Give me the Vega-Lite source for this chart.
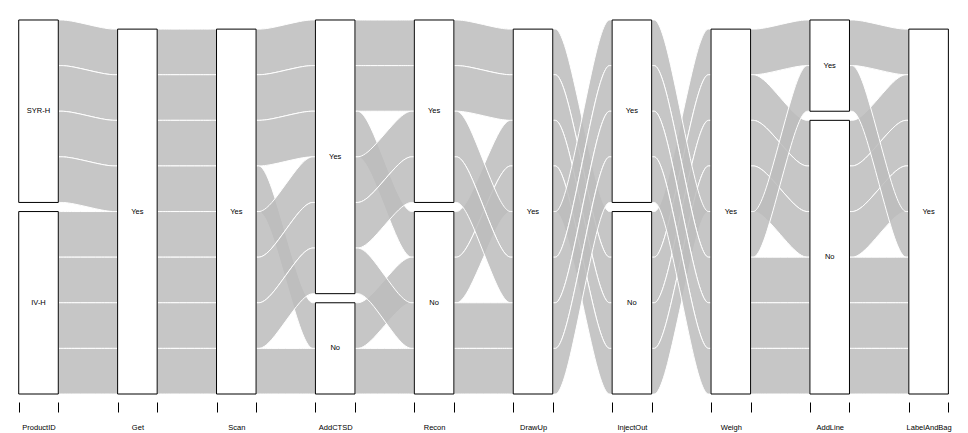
{
  "$schema": "https://vega.github.io/schema/vega-lite/v6.json",
  "width": 968,
  "height": 402,
  "padding": {"left": 0, "top": 0, "right": 0, "bottom": 31},
  "autosize": {"type": "none"},
  "background": "white",
  "config": {"view": {"stroke": null}},
  "data": {
    "values": [
      {"id": 1, "n": 1, "ProductID": "SYR-H", "Get": "Yes", "Scan": "Yes", "AddCTSD": "Yes", "Recon": "Yes", "DrawUp": "Yes", "InjectOut": "No", "Weigh": "Yes", "AddLine": "Yes", "LabelAndBag": "Yes"},
      {"id": 2, "n": 1, "ProductID": "SYR-H", "Get": "Yes", "Scan": "Yes", "AddCTSD": "Yes", "Recon": "Yes", "DrawUp": "Yes", "InjectOut": "No", "Weigh": "Yes", "AddLine": "No", "LabelAndBag": "Yes"},
      {"id": 3, "n": 1, "ProductID": "SYR-H", "Get": "Yes", "Scan": "Yes", "AddCTSD": "Yes", "Recon": "No", "DrawUp": "Yes", "InjectOut": "No", "Weigh": "Yes", "AddLine": "No", "LabelAndBag": "Yes"},
      {"id": 4, "n": 1, "ProductID": "SYR-H", "Get": "Yes", "Scan": "Yes", "AddCTSD": "No", "Recon": "No", "DrawUp": "Yes", "InjectOut": "No", "Weigh": "Yes", "AddLine": "No", "LabelAndBag": "Yes"},
      {"id": 5, "n": 1, "ProductID": "IV-H", "Get": "Yes", "Scan": "Yes", "AddCTSD": "Yes", "Recon": "Yes", "DrawUp": "Yes", "InjectOut": "Yes", "Weigh": "Yes", "AddLine": "Yes", "LabelAndBag": "Yes"},
      {"id": 6, "n": 1, "ProductID": "IV-H", "Get": "Yes", "Scan": "Yes", "AddCTSD": "Yes", "Recon": "Yes", "DrawUp": "Yes", "InjectOut": "Yes", "Weigh": "Yes", "AddLine": "No", "LabelAndBag": "Yes"},
      {"id": 7, "n": 1, "ProductID": "IV-H", "Get": "Yes", "Scan": "Yes", "AddCTSD": "Yes", "Recon": "No", "DrawUp": "Yes", "InjectOut": "Yes", "Weigh": "Yes", "AddLine": "No", "LabelAndBag": "Yes"},
      {"id": 8, "n": 1, "ProductID": "IV-H", "Get": "Yes", "Scan": "Yes", "AddCTSD": "No", "Recon": "No", "DrawUp": "Yes", "InjectOut": "Yes", "Weigh": "Yes", "AddLine": "No", "LabelAndBag": "Yes"}
    ]
  },
  "transform": [
    {"fold": ["ProductID", "Get", "Scan", "AddCTSD", "Recon", "DrawUp", "InjectOut", "Weigh", "AddLine", "LabelAndBag"], "as": ["key", "value"]},
    {"calculate": "indexof(['ProductID','Get','Scan','AddCTSD','Recon','DrawUp','InjectOut','Weigh','AddLine','LabelAndBag'], datum.key)", "as": "i"},
    {"window": [{"op": "dense_rank", "as": "r"}], "groupby": ["key"], "sort": [{"field": "value", "order": "ascending"}]},
    {"stack": "n", "groupby": ["key"], "sort": [{"field": "value", "order": "ascending"}, {"field": "id", "order": "descending"}], "as": ["s0", "s1"]},
    {"calculate": "datum.s0 + (datum.r - 1) * 0.2", "as": "lo"},
    {"calculate": "datum.s1 + (datum.r - 1) * 0.2", "as": "hi"}
  ],
  "layer": [
    {
      "transform": [
        {"calculate": "[0,1,2,3]", "as": "k"},
        {"flatten": ["k"]},
        {"calculate": "datum.k < 2 ? datum.i : datum.i - 1", "as": "p"},
        {"filter": "datum.p >= 0 && datum.p <= 8"},
        {"calculate": "datum.k == 0 ? datum.i + 0.2 : (datum.k == 1 ? datum.i + 0.32 : (datum.k == 2 ? datum.i - 0.32 : datum.i - 0.2))", "as": "fx"},
        {"calculate": "datum.id + '_' + datum.p", "as": "fid"}
      ],
      "mark": {"type": "area", "interpolate": "basis", "fill": "#bcbcbc", "fillOpacity": 0.85, "stroke": "white", "strokeWidth": 1, "strokeOpacity": 1},
      "encoding": {
        "x": {
          "field": "fx", "type": "quantitative",
          "scale": {"domain": [-0.3893, 9.3984], "nice": false, "zero": false},
          "axis": {
            "values": [-0.2, 0.2, 0.8, 1.2, 1.8, 2.2, 2.8, 3.2, 3.8, 4.2, 4.8, 5.2, 5.8, 6.2, 6.8, 7.2, 7.8, 8.2, 8.8, 9.2],
            "title": null, "domain": false, "grid": false, "ticks": true,
            "tickSize": 10, "tickColor": "black", "tickWidth": 1,
            "labelOverlap": false, "labelFlush": false, "labelBound": false,
            "labelOffset": 19.8, "labelPadding": 11, "labelFontSize": 7.5,
            "labelFont": "Liberation Sans", "labelColor": "black",
            "labelExpr": "abs(datum.value - round(datum.value) + 0.2) < 0.01 ? ['ProductID','Get','Scan','AddCTSD','Recon','DrawUp','InjectOut','Weigh','AddLine','LabelAndBag'][round(datum.value)] : ''"
          }
        },
        "y": {"field": "hi", "type": "quantitative", "scale": {"domain": [-0.1754, 8.6385], "nice": false, "zero": false}, "axis": null},
        "y2": {"field": "lo"},
        "detail": {"field": "fid"}
      }
    },
    {
      "transform": [
        {"aggregate": [{"op": "min", "field": "lo", "as": "blo"}, {"op": "max", "field": "hi", "as": "bhi"}], "groupby": ["key", "value", "i"]},
        {"calculate": "datum.i - 0.2", "as": "xl"},
        {"calculate": "datum.i + 0.2", "as": "xr"},
        {"calculate": "(datum.blo + datum.bhi) / 2", "as": "mid"}
      ],
      "layer": [
        {
          "mark": {"type": "rect", "fill": "white", "stroke": "black", "strokeWidth": 1},
          "encoding": {
            "x": {
              "field": "xl", "type": "quantitative",
              "scale": {"domain": [-0.3893, 9.3984], "nice": false, "zero": false},
              "axis": {
                "values": [-0.2, 0.2, 0.8, 1.2, 1.8, 2.2, 2.8, 3.2, 3.8, 4.2, 4.8, 5.2, 5.8, 6.2, 6.8, 7.2, 7.8, 8.2, 8.8, 9.2],
                "title": null, "domain": false, "grid": false, "ticks": true,
                "tickSize": 10, "tickColor": "black", "tickWidth": 1,
                "labelOverlap": false, "labelFlush": false, "labelBound": false,
                "labelOffset": 19.8, "labelPadding": 11, "labelFontSize": 7.5,
                "labelFont": "Liberation Sans", "labelColor": "black",
                "labelExpr": "abs(datum.value - round(datum.value) + 0.2) < 0.01 ? ['ProductID','Get','Scan','AddCTSD','Recon','DrawUp','InjectOut','Weigh','AddLine','LabelAndBag'][round(datum.value)] : ''"
              }
            },
            "x2": {"field": "xr"},
            "y": {"field": "blo", "type": "quantitative", "scale": {"domain": [-0.1754, 8.6385], "nice": false, "zero": false}, "axis": null},
            "y2": {"field": "bhi"}
          }
        },
        {
          "mark": {"type": "text", "font": "Liberation Sans", "fontSize": 7.5, "fill": "black", "baseline": "middle", "align": "center"},
          "encoding": {
            "x": {
              "field": "i", "type": "quantitative",
              "scale": {"domain": [-0.3893, 9.3984], "nice": false, "zero": false},
              "axis": {
                "values": [-0.2, 0.2, 0.8, 1.2, 1.8, 2.2, 2.8, 3.2, 3.8, 4.2, 4.8, 5.2, 5.8, 6.2, 6.8, 7.2, 7.8, 8.2, 8.8, 9.2],
                "title": null, "domain": false, "grid": false, "ticks": true,
                "tickSize": 10, "tickColor": "black", "tickWidth": 1,
                "labelOverlap": false, "labelFlush": false, "labelBound": false,
                "labelOffset": 19.8, "labelPadding": 11, "labelFontSize": 7.5,
                "labelFont": "Liberation Sans", "labelColor": "black",
                "labelExpr": "abs(datum.value - round(datum.value) + 0.2) < 0.01 ? ['ProductID','Get','Scan','AddCTSD','Recon','DrawUp','InjectOut','Weigh','AddLine','LabelAndBag'][round(datum.value)] : ''"
              }
            },
            "y": {"field": "mid", "type": "quantitative", "scale": {"domain": [-0.1754, 8.6385], "nice": false, "zero": false}, "axis": null},
            "text": {"field": "value"}
          }
        }
      ]
    }
  ]
}
